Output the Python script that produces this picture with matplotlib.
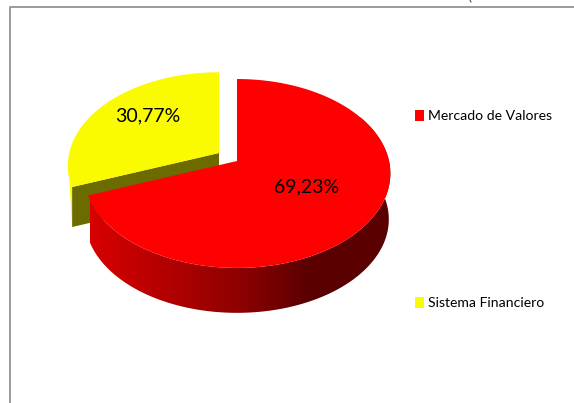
import numpy as np
import matplotlib
matplotlib.use("Agg")
import matplotlib.pyplot as plt
from matplotlib.colors import LinearSegmentedColormap
from matplotlib.patches import Patch

categories = ["Mercado de Valores", "Sistema Financiero"]
values = [69.23, 30.77]
value_labels = ["69,23%", "30,77%"]
colors = ["#fe0000", "#fafa00"]

FONT = "Lato"
W, H = 574, 403
RX, RY, PERSP = 152.0, 92.8, 0.132  # ellipse radii and perspective of the tilted disc
DEPTH = 46.0
SHRINK = 0.99  # lower rim looks a bit smaller


def rim(theta, cx, cy, scale=1.0):
    # theta in degrees, clockwise from the top of the pie
    t = np.radians(theta)
    w = 1 + PERSP * np.cos(t)
    return cx + scale * RX * np.sin(t) / w, cy - scale * RY * np.cos(t) / w


def top_poly(a0, a1, cx, cy, scale=1.0):
    th = np.linspace(a0, a1, 200)
    x, y = rim(th, cx, cy, scale)
    return np.column_stack([np.r_[cx, x], np.r_[cy, y]])


fig = plt.figure(figsize=(W / 100, H / 100), dpi=100)
ax = fig.add_axes([0, 0, 1, 1])

# chart frame, cut by the picture on the right and at the bottom
ax.plot([10, 10, W], [H, 7, 7], color="#9a9a9a", lw=1.4)
ax.plot([470, 471], [0, 2], color="#555555", lw=0.8)

sweep = 360 * values[0] / sum(values)

# exploded yellow slice
yx, yy = 219, 153
ydepth = 40
ys = 0.985
lx, ly = rim(sweep, yx, yy, ys)
lx2, ly2 = rim(sweep, yx, yy + ydepth, ys)
th = np.linspace(sweep, 266, 40)
sx, sy = rim(th, yx, yy, ys)
ax.fill(np.r_[sx, lx2], np.r_[sy, ly2], color=colors[1], lw=0, zorder=2)
ax.fill([yx, lx, lx2, yx], [yy, ly, ly2, yy + ydepth], color="#6b6b00", lw=0, zorder=3)
ax.add_patch(plt.Polygon(top_poly(sweep, 360, yx, yy, ys), color=colors[1], lw=0, zorder=4))

# red slice, side wall shaded from left to right
rx, ry = 237, 161
dark_red = LinearSegmentedColormap.from_list(
    "side", [(0, "#d80000"), (0.5, "#8e0000"), (0.72, "#5c0000"), (1, "#5a0000")])
th = np.linspace(60, sweep, 300)
x0, y0 = rim(th, rx, ry)
x1, y1 = rim(th, rx, ry + DEPTH, SHRINK)
wall = plt.Polygon(np.column_stack([np.r_[x0, x1[::-1]], np.r_[y0, y1[::-1]]]), fc="none", ec="none")
ax.add_patch(wall)
grad = np.linspace(0, 1, 300).reshape(1, -1)
img = ax.imshow(grad, cmap=dark_red, extent=[90, 391, 320, 60], aspect="auto", zorder=5)
img.set_clip_path(wall)
ax.add_patch(plt.Polygon(top_poly(0, sweep, rx, ry), color=colors[0], lw=0, zorder=6))

ax.text(307, 187, value_labels[0], fontsize=14, ha="center", va="center", family=FONT, zorder=7)
ax.text(148, 116, value_labels[1], fontsize=14, ha="center", va="center", family=FONT, zorder=7)

handles = [Patch(facecolor=c, edgecolor="none") for c in colors]
ax.legend(handles, categories, loc="upper left", bbox_to_anchor=(415 / W, 1 - 110 / H),
          bbox_transform=fig.transFigure, frameon=False, borderpad=0, borderaxespad=0,
          prop={"family": FONT, "size": 10.1}, handlelength=0.66, handleheight=0.8,
          handletextpad=0.25, labelspacing=12.45)

ax.set_xlim(0, W)
ax.set_ylim(H, 0)
ax.axis("off")

fig.savefig("out.png", dpi=100, facecolor="white")
